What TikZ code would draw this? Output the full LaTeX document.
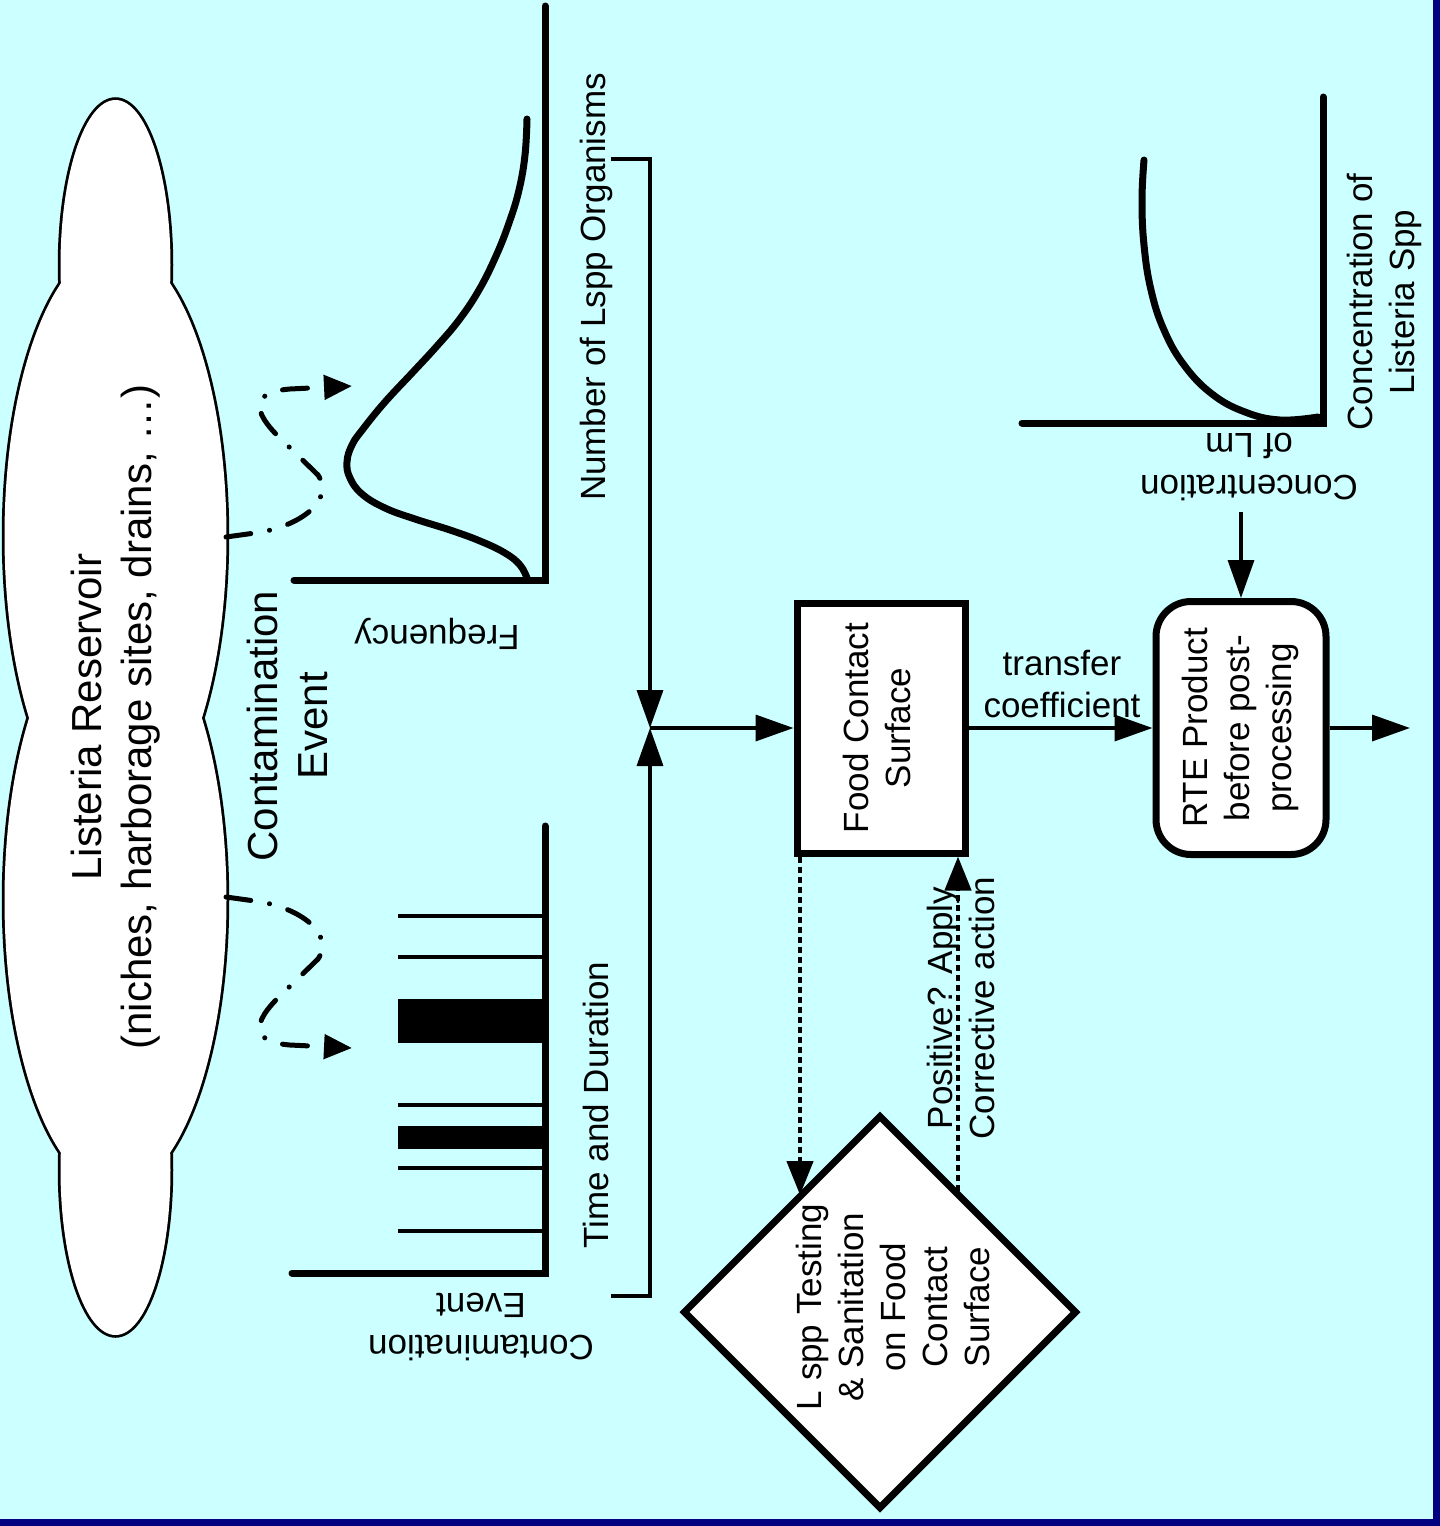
\documentclass[tikz,border=0pt]{standalone}
\usepackage{fontspec}
\setmainfont{Liberation Sans}
\usepackage{graphicx}
\usetikzlibrary{arrows.meta,shapes.geometric}
\definecolor{bgcyan}{RGB}{204,255,255}
\definecolor{framenavy}{RGB}{0,0,128}
\newcommand\vlines[1]{\rotatebox{90}{\begin{tabular}{@{}c@{}}#1\end{tabular}}}
\begin{document}
\begin{tikzpicture}[x=1pt,y=-1pt,
  lbl/.style={font=\fontsize{35}{42}\selectfont, inner sep=0pt, align=center},
  biglbl/.style={font=\fontsize{42}{50}\selectfont, inner sep=0pt, align=center},
  boxnode/.style={draw, line width=7pt, fill=white, inner sep=0pt, font=\fontsize{35}{42}\selectfont},
  conn/.style={line width=3.5pt, -{Triangle[length=38pt,width=26pt]}},
  dotconn/.style={line width=4.5pt, dash pattern=on 6pt off 4pt, -{Triangle[length=34pt,width=26pt]}},
  dashdotarrow/.style={line width=5pt, line cap=round, dash pattern=on 25pt off 19pt on 0.1pt off 19pt, -{Triangle[length=28pt,width=24pt]}},
  axisline/.style={line width=7pt, line cap=round, line join=miter},
  curveline/.style={line width=7pt, line cap=round, line join=round},
  barline/.style={line width=4.5pt},
  cloudpart/.style={line width=5.5pt}
]
% background and frame
\fill[framenavy] (0,0) rectangle (1440,1526);
\fill[bgcyan] (0,0) rectangle (1433,1519);
\useasboundingbox (0,0) rectangle (1440,1526);

% cloud (reservoir): strokes first, then white fill leaves the outer outline
\draw[cloudpart] (115.5,265) ellipse [x radius=55, y radius=165];
\draw[cloudpart] (115.5,536) ellipse [x radius=111, y radius=290];
\draw[cloudpart] (115.5,900) ellipse [x radius=111, y radius=290];
\draw[cloudpart] (115.5,1170) ellipse [x radius=55, y radius=165];
\fill[white] (115.5,265) ellipse [x radius=55, y radius=165];
\fill[white] (115.5,536) ellipse [x radius=111, y radius=290];
\fill[white] (115.5,900) ellipse [x radius=111, y radius=290];
\fill[white] (115.5,1170) ellipse [x radius=55, y radius=165];

\node[biglbl, rotate=90] (res) at (116,717) {Listeria Reservoir\\(niches, harborage sites, drains, …)};
\node[biglbl, rotate=90] (ce) at (287,726) {Contamination\\Event};

% dash-dot contamination arrows
\coordinate (cloudA) at (226,537);
\coordinate (cloudB) at (226,897);
\coordinate (freqIn) at (352,386);
\coordinate (evtIn) at (352,1048);
\draw[dashdotarrow] (cloudA) -- (255,533) .. controls (300,527) and (335,500) .. (318,475)
   -- (282,440) .. controls (250,410) and (252,392) .. (290,389) -- (freqIn);
\draw[dashdotarrow] (cloudB) -- (255,901) .. controls (300,907) and (335,934) .. (318,959)
   -- (282,994) .. controls (250,1024) and (252,1042) .. (290,1045) -- (evtIn);

% frequency chart
\draw[axisline] (545,6) -- (545,580) -- (294,580);
\draw[curveline] plot[smooth, tension=0.7] coordinates {(527,578) (520,565) (505,553) (480,541) (450,530) (415,519) (385,508) (362,494) (350,478) (347,462) (352,445) (363,429) (385,402) (413,372) (437,346) (459,320) (479,290) (496,256) (509,223) (519,190) (525,155) (527,119)};
\node[lbl, rotate=90] (nlo) at (596,287) {Number of Lspp Organisms};
\node[lbl, rotate=180] (fr) at (437,634) {Frequency};

% event chart
\draw[axisline] (545,826) -- (545,1273) -- (292,1273);
\foreach \yy in {916,957,1105,1168,1231} \draw[barline] (398,\yy) -- (545,\yy);
\fill (398,999) rectangle (545,1043);
\fill (398,1126) rectangle (545,1149);
\node[lbl, rotate=90] (td) at (596,1105) {Time and Duration};
\node[lbl, rotate=180] (cev) at (481,1327) {Contamination\\Event};

% concentration chart
\draw[axisline] (1323,97) -- (1323,423) -- (1022,423);
\draw[curveline] plot[smooth, tension=0.7] coordinates {(1144,160) (1142,200) (1144,245) (1151,290) (1164,330) (1184,365) (1212,394) (1245,412) (1280,420) (1318,417)};
\node[lbl, rotate=90] (cls) at (1384,302) {Concentration of\\Listeria Spp};
\node[lbl, rotate=180] (clm) at (1249,467) {Concentration\\of Lm};

% boxes
\node[boxnode, minimum width=168pt, minimum height=250pt] (fcs) at (881,728) {\vlines{Food Contact\\Surface}};
\node[boxnode, rounded corners=35pt, minimum width=170pt, minimum height=253pt] (rte) at (1241,728) {\vlines{RTE Product\\before post-\\processing}};
\node[diamond, aspect=1, draw, line width=7pt, fill=white, inner sep=0pt, minimum width=394pt, minimum height=394pt] (dia) at (880,1312) {};
\node[lbl, rotate=90] (diat) at (893,1307) {L spp Testing\\\& Sanitation\\on Food\\Contact\\Surface};

% brackets and junction
\coordinate (nbTop) at (611,159);
\coordinate (nbBot) at (611,1296);
\coordinate (j) at (650,728);
\draw[conn] (nbTop) -| (j);
\draw[conn] (nbBot) -| (j);
\draw[conn] (j) -- (fcs.west);

% flow to RTE
\draw[conn] (fcs.east) -- (rte.west);
\node[lbl] (tc) at (1062,684) {transfer\\coefficient};
\coordinate (lmTop) at (1241,512);
\draw[conn] (lmTop) -- (rte.north);
\coordinate (outp) at (1410,728);
\draw[conn] (rte.east) -- (outp);

% testing loop
\coordinate (tsIn) at (800,1195);
\coordinate (tsOut) at (958,1191);
\draw[dotconn] (tsIn |- fcs.south) -- (tsIn);
\draw[dotconn] (tsOut) -- (tsOut |- fcs.south);
\node[lbl, rotate=90] (pos) at (961,1008) {Positive? Apply\\Corrective action};
\end{tikzpicture}
\end{document}
